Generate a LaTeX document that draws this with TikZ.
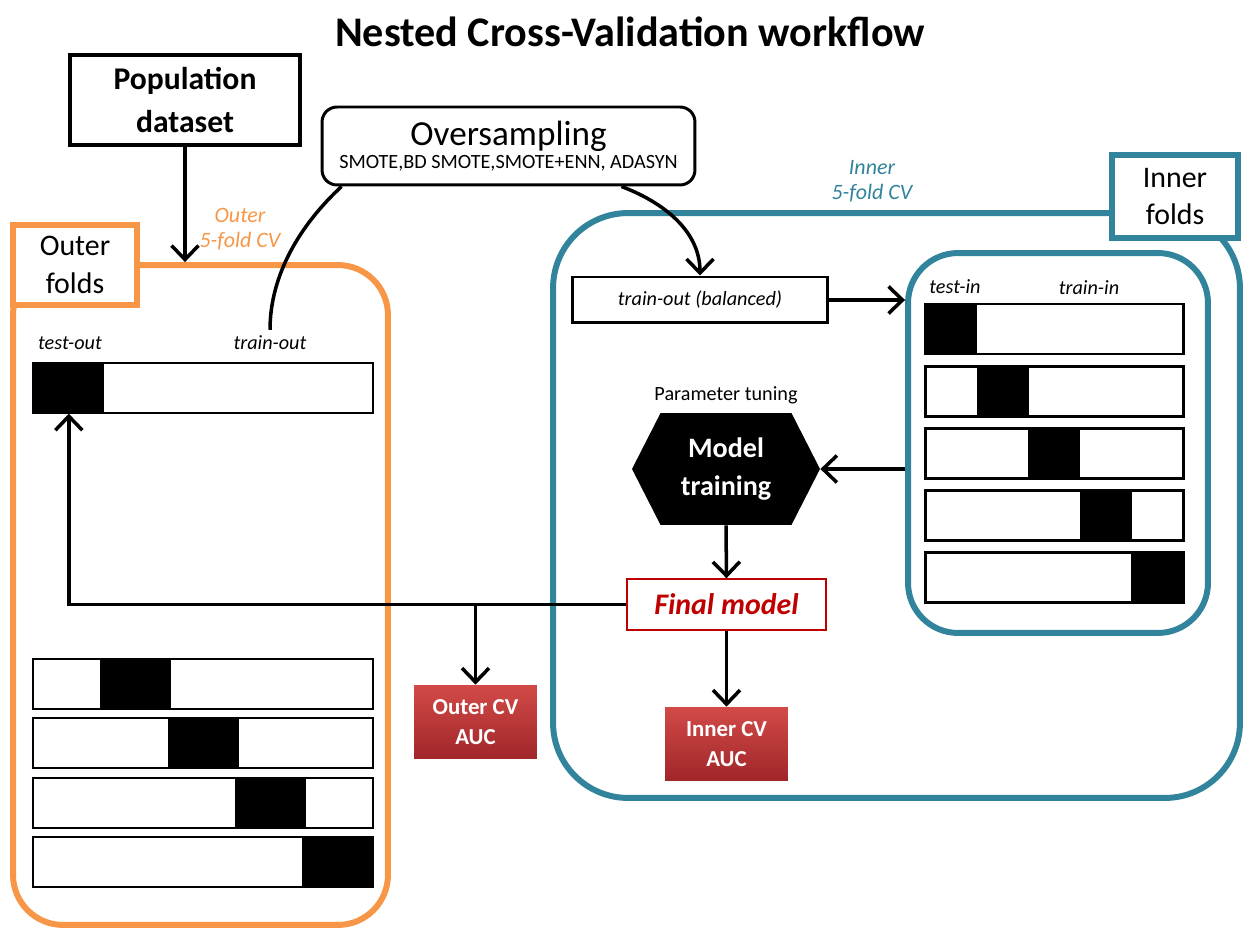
\documentclass[tikz,border=0pt]{standalone}
\usepackage{fontspec}
\setmainfont{Carlito}
\usetikzlibrary{arrows.meta,shapes.symbols}

\definecolor{outerorange}{HTML}{F79646}
\definecolor{innerteal}{HTML}{31849B}
\definecolor{finalred}{HTML}{C00000}
\definecolor{auctop}{HTML}{D24A47}
\definecolor{aucbottom}{HTML}{A0262A}

\begin{document}
\begin{tikzpicture}[x=0.02cm, y=-0.02cm,
	arr/.style={line width=2pt, -{Straight Barb[length=2.8mm,width=5.4mm]}},
	foldbar/.style={line width=1.7pt},
	foldlabel/.style={font=\fontsize{11.5}{14}\selectfont\itshape},
	aucbox/.style={top color=auctop, bottom color=aucbottom, text=white, align=center,
		minimum width=2.46cm, minimum height=1.48cm, font=\fontsize{13}{17}\selectfont\bfseries}]

	\useasboundingbox (0,0) rectangle (1244,928);

	\node[font=\fontsize{24}{28}\selectfont\bfseries] (title) at (630,32) {Nested Cross-Validation workflow};

	%outer and inner loops
	\node[draw=outerorange,
	line width=3.4pt,
	rounded corners=1cm,
	minimum width=7.5cm,
	minimum height=13.2cm] (outercv) at (200.5,595) {};

	\node[draw=innerteal,
	line width=3.4pt,
	rounded corners=1.5cm,
	minimum width=13.74cm,
	minimum height=11.7cm] (innercv) at (896.5,505.5) {};

	\node[draw=innerteal,
	line width=3.4pt,
	rounded corners=1cm,
	minimum width=6cm,
	minimum height=7.6cm] (infolds) at (1058,443) {};

	\node[draw=outerorange,
	fill=white,
	line width=3.4pt,
	minimum width=2.48cm,
	minimum height=1.6cm,
	align=center,
	font=\fontsize{17}{21.5}\selectfont] (outerlabel) at (75,265) {Outer\\folds};

	\node[draw=innerteal,
	fill=white,
	line width=3.4pt,
	minimum width=2.52cm,
	minimum height=1.66cm,
	align=center,
	font=\fontsize{17}{21.5}\selectfont] (innerlabel) at (1175,196.5) {Inner\\folds};

	\node[text=outerorange, align=center, font=\fontsize{12.5}{14.5}\selectfont\itshape] (outertag) at (240,229) {Outer\\5-fold CV};
	\node[text=innerteal, align=center, font=\fontsize{12.5}{14.5}\selectfont\itshape] (innertag) at (872,181) {Inner\\5-fold CV};

	%top boxes
	\node[draw,
	line width=2.8pt,
	minimum width=4.6cm,
	minimum height=1.8cm,
	align=center,
	font=\fontsize{18}{24}\selectfont\bfseries] (pop) at (185,100) {Population\\dataset};

	\node[draw,
	line width=1.7pt,
	rounded corners=0.3cm,
	minimum width=7.46cm,
	minimum height=1.56cm,
	align=center] (over) at (508.5,146)
	{{\fontsize{20}{22}\selectfont Oversampling}\\[1pt]{\fontsize{11.5}{13}\selectfont SMOTE,BD SMOTE,SMOTE+ENN, ADASYN}};

	%outer folds
	\node[foldlabel] (testout) at (70,343) {test-out};
	\node[foldlabel] (trainout) at (270,343) {train-out};

	\node[fill=black, inner sep=0pt, minimum width=1.42cm, minimum height=1cm, anchor=north west] (testblock) at (33,363) {};
	\draw[foldbar] (33,363) rectangle ++(340,50);

	\foreach \k/\y in {1/659,2/718,3/778,4/837} {
		\fill (33+67.3*\k,\y) rectangle ++(71,50);
		\draw[foldbar] (33,\y) rectangle ++(340,50);
	}

	%inner folds
	\node[foldlabel] (testin) at (955,287) {test-in};
	\node[foldlabel] (trainin) at (1089,288) {train-in};

	\foreach \k in {0,...,4} {
		\fill (925+51.6*\k,304+62.2*\k) rectangle ++(52,50);
		\draw[foldbar] (925,304+62.2*\k) rectangle ++(258,50);
	}

	%inner loop
	\node[draw,
	line width=1.7pt,
	minimum width=5.12cm,
	minimum height=0.92cm,
	font=\fontsize{11.5}{14}\selectfont\itshape] (trainbal) at (700,300) {train-out (balanced)};

	\node[font=\fontsize{11.5}{14}\selectfont] (tuning) at (726,395) {Parameter tuning};

	\node[signal,
	signal to=east and west,
	signal pointer angle=126,
	fill=black,
	text=white,
	align=center,
	inner sep=0pt,
	minimum width=3.76cm,
	minimum height=2.24cm,
	font=\fontsize{16}{21.5}\selectfont\bfseries] (model) at (726,469) {Model\\training};

	\node[draw=finalred,
	line width=0.8pt,
	fill=white,
	text=finalred,
	minimum width=3.98cm,
	minimum height=1.02cm,
	font=\fontsize{17}{20}\selectfont\bfseries\itshape] (final) at (726.5,604.5) {Final model};

	\node[aucbox] (outerauc) at (475.5,722) {Outer CV\\AUC};
	\node[aucbox] (innerauc) at (726.5,744) {Inner CV\\AUC};

	%connectors
	\draw[arr] (pop) -- (pop |- outercv.north);
	\draw[line width=2pt] ([xshift=0.42cm]over.south west) .. controls (300,225) and (270,275) .. (trainout.north);
	\draw[arr] ([xshift=-1.5cm]over.south east) .. controls (670,205) and (700,235) .. (trainbal.north);
	\draw[arr] (trainbal.east) -- (trainbal.east -| infolds.west);
	\draw[arr] (infolds.west |- model.east) -- (model.east);
	\draw[arr] (model.south) -- (final.north);
	\draw[arr] (final.west) -| (testblock.south);
	\draw[arr] (final.west -| outerauc.north) -- (outerauc.north);
	\draw[arr] (final.south) -- (innerauc.north);
\end{tikzpicture}
\end{document}
